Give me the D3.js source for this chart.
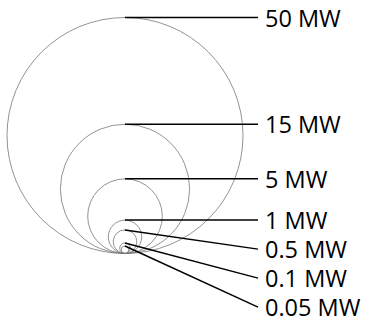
<!DOCTYPE html>
<html><head><meta charset="utf-8">
<script src="https://cdn.jsdelivr.net/npm/d3@7"></script>
<style>body{margin:0;background:#fff}svg{display:block}</style>
</head><body>
<script>
const capacities = [50, 15, 5, 1, 0.5, 0.1, 0.05];
const labels = ["50 MW", "15 MW", "5 MW", "1 MW", "0.5 MW", "0.1 MW", "0.05 MW"];

const W = 365, H = 318;
const cx = 125, baseY = 253.5, maxR = 118;
const labelLineEnd = 258, labelX = 265, minGap = 29;

const r = d3.scaleSqrt().domain([0, d3.max(capacities)]).range([0, maxR]);

const svg = d3.select("body").append("svg").attr("width", W).attr("height", H);

const data = capacities.map((v, i) => ({v, label: labels[i], r: r(v)}));
let prev = -Infinity;
data.forEach(d => {
  d.top = baseY - 2 * d.r;
  d.ly = Math.max(d.top, prev + minGap);
  prev = d.ly;
});

svg.selectAll("circle").data(data).join("circle")
  .attr("cx", cx).attr("cy", d => baseY - d.r).attr("r", d => d.r)
  .attr("fill", "none").attr("stroke", "#777").attr("stroke-width", 0.8);

svg.selectAll("line.lead").data(data).join("line").attr("class", "lead")
  .attr("x1", cx).attr("y1", d => d.top)
  .attr("x2", labelLineEnd).attr("y2", d => d.ly)
  .attr("stroke", "#000").attr("stroke-width", 1.5);

svg.selectAll("text").data(data).join("text")
  .attr("x", labelX).attr("y", d => d.ly)
  .attr("dominant-baseline", "central")
  .attr("font-family", "'Open Sans', sans-serif").attr("font-size", 23.5)
  .attr("fill", "#000")
  .text(d => d.label);
</script>
</body></html>
